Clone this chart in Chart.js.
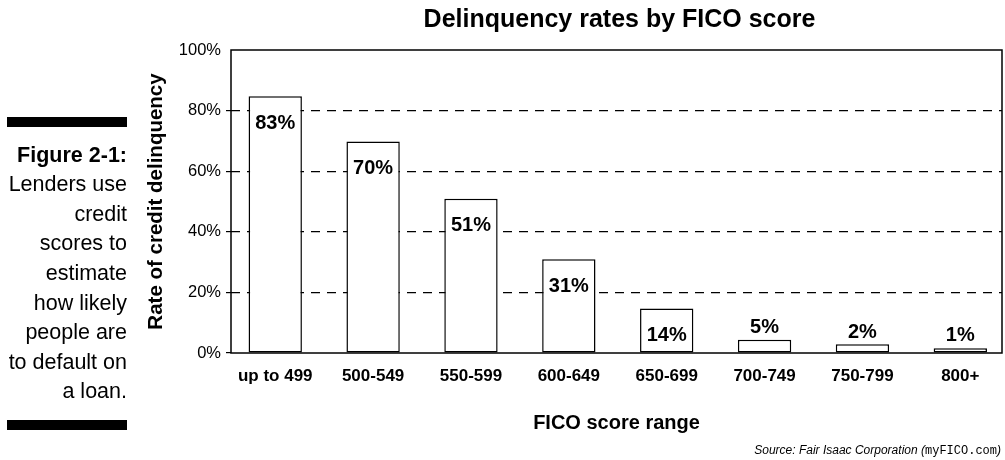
<!DOCTYPE html>
<html>
<head>
<meta charset="utf-8">
<script src="https://cdn.jsdelivr.net/npm/chart.js@4.4.1/dist/chart.umd.min.js"></script>
<style>
  html, body { margin: 0; padding: 0; background: #fff; }
  #wrap { position: relative; width: 1005px; height: 460px; overflow: hidden; }
  #chart { position: absolute; left: 0; top: 0; }
  .sans { font-family: "Liberation Sans", Arial, sans-serif; }
  .rule { position: absolute; left: 7px; width: 120px; height: 10px; background: #000; }
  #caption {
    position: absolute; right: 878px; top: 140.7px;
    text-align: right; font-size: 21.5px; line-height: 29.6px; color: #000; white-space: nowrap;
  }
  #caption b { font-weight: bold; }
  #source {
    position: absolute; right: 4px; top: 443px;
    font-size: 12px; font-style: italic; color: #000; white-space: nowrap;
  }
  #source span { font-family: "Liberation Mono", "DejaVu Sans Mono", monospace; font-style: normal; font-size: 12px; }
</style>
</head>
<body>
<div id="wrap">
  <canvas id="chart" width="1005" height="460"></canvas>
  <div class="rule" style="top:117px"></div>
  <div id="caption" class="sans"><b>Figure 2-1:</b><br>Lenders use<br>credit<br>scores to<br>estimate<br>how likely<br>people are<br>to default on<br>a loan.</div>
  <div class="rule" style="top:420px"></div>
  <div id="source" class="sans">Source: Fair Isaac Corporation (<span>myFICO.com</span>)</div>
</div>
<script>
const FONT = '"Liberation Sans", Arial, sans-serif';

const categories = ['up to 499', '500-549', '550-599', '600-649', '650-699', '700-749', '750-799', '800+'];
// bar heights as drawn (percent), and the printed labels
const barHeights = [84.7, 69.8, 50.9, 30.9, 14.7, 4.4, 2.9, 1.6];
const barLabels = ['83%', '70%', '51%', '31%', '14%', '5%', '2%', '1%'];
const yTicks = [0, 20, 40, 60, 80, 100];

const titleText = 'Delinquency rates by FICO score';

Chart.defaults.font.family = FONT;
Chart.defaults.color = '#000';

const decorations = {
    id: 'decorations',
    afterDatasetsDraw(chart) {
        const { ctx, chartArea: a } = chart;
        ctx.save();

        // frame round the plot
        ctx.strokeStyle = '#000';
        ctx.lineWidth = 1.5;
        ctx.strokeRect(a.left, a.top, a.right - a.left, a.bottom - a.top);

        // value labels
        ctx.fillStyle = '#000';
        ctx.textAlign = 'center';
        ctx.textBaseline = 'alphabetic';
        ctx.font = `bold 20px ${FONT}`;
        chart.getDatasetMeta(0).data.forEach((bar, i) => {
            const y = barHeights[i] > 10 ? bar.y + 32.5 : bar.y - 6.7;
            ctx.fillText(barLabels[i], bar.x, y);
        });

        // title, centred over the plot
        ctx.font = `bold 25px ${FONT}`;
        ctx.fillText(titleText, (a.left + a.right) / 2 + 3, 27);
        ctx.restore();
    }
};

const ctx = document.getElementById('chart').getContext('2d');
new Chart(ctx, {
    type: 'bar',
    data: {
        datasets: [{
            data: barHeights.map((v, i) => ({ x: i, y: v })),
            backgroundColor: '#fff',
            borderColor: '#000',
            borderWidth: 1.5,
            borderSkipped: false,
            barPercentage: 0.545,
            categoryPercentage: 1
        }]
    },
    options: {
        responsive: false,
        animation: false,
        layout: { padding: { left: 140, top: 50, right: 3, bottom: 25 } },
        plugins: {
            legend: { display: false },
            tooltip: { enabled: false }
        },
        scales: {
            x: {
                type: 'linear',
                offset: false,
                min: -0.452,
                max: 7.426,
                afterBuildTicks: (scale) => { scale.ticks = categories.map((c, i) => ({ value: i })); },
                afterFit: (scale) => { scale.height = 82; },
                grid: { display: false, drawTicks: false },
                border: { display: false },
                ticks: {
                    autoSkip: false,
                    maxRotation: 0,
                    padding: 13.5,
                    font: { size: 17, weight: 'bold' },
                    callback: (v) => categories[v] ?? ''
                },
                title: {
                    display: true,
                    text: 'FICO score range',
                    font: { size: 20, weight: 'bold' },
                    padding: { top: 0, bottom: 0 }
                }
            },
            y: {
                min: 0,
                max: 100,
                afterBuildTicks: (scale) => { scale.ticks = yTicks.map(v => ({ value: v })); },
                afterFit: (scale) => { scale.width = 91; },
                grid: {
                    color: (c) => (c.tick && (c.tick.value === 0 || c.tick.value === 100)) ? 'rgba(0,0,0,0)' : '#000',
                    lineWidth: 1.2,
                    tickLength: 5,
                    tickColor: (c) => (c.tick && c.tick.value === 100) ? 'rgba(0,0,0,0)' : '#000'
                },
                border: { display: false, dash: [9, 7] },
                ticks: {
                    padding: 5,
                    font: { size: 16.5 },
                    callback: (v) => v + '%'
                },
                title: {
                    display: true,
                    text: 'Rate of credit delinquency',
                    font: { size: 20.5, weight: 'bold' },
                    padding: { top: 4.2, bottom: 0 }
                }
            }
        }
    },
    plugins: [decorations]
});
</script>
</body>
</html>
